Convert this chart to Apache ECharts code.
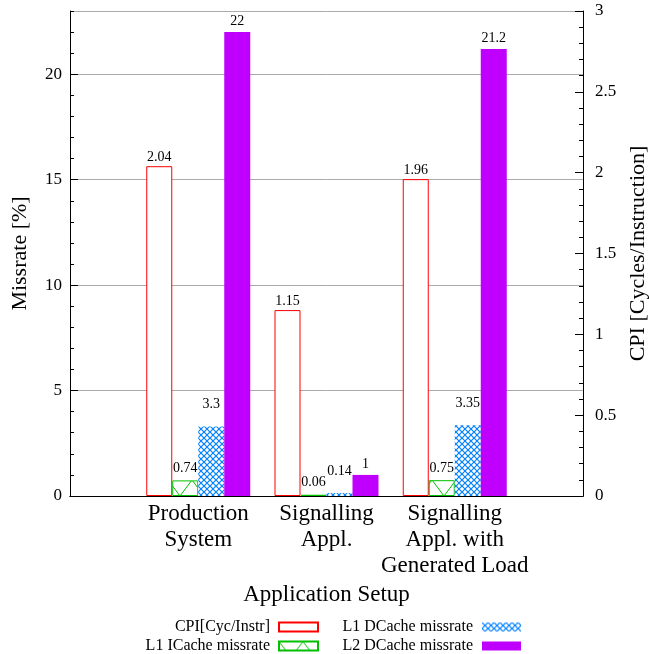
<!DOCTYPE html>
<html>
<head>
<meta charset="utf-8">
<script src="https://cdn.jsdelivr.net/npm/echarts@6/dist/echarts.min.js"></script>
<style>
html,body{margin:0;padding:0;background:#fff;}
#chart{width:649px;height:654px;}
</style>
</head>
<body>
<div id="chart"></div>
<script>
// ---- data ----
var categories = ['Production\nSystem', 'Signalling\nAppl.', 'Signalling\nAppl. with\nGenerated Load'];
var seriesNames = ['CPI[Cyc/Instr]', 'L1 ICache missrate', 'L1 DCache missrate', 'L2 DCache missrate'];
var cpiValues = [2.04, 1.15, 1.96];
var l1iValues = [0.74, 0.06, 0.75];
var l1dValues = [3.3, 0.14, 3.35];
var l2dValues = [22, 1, 21.2];
var leftAxisMax = 23;
var rightAxisMax = 3;

// ---- helpers ----
function pad(arr) { return [null].concat(arr).concat([null]); }
var xCats = [''].concat(categories).concat(['']);

function makePattern(w, h, color, draw) {
  var c = document.createElement('canvas');
  c.width = w; c.height = h;
  var ctx = c.getContext('2d');
  ctx.fillStyle = '#ffffff';
  ctx.fillRect(0, 0, w, h);
  ctx.strokeStyle = color;
  ctx.lineWidth = 1;
  draw(ctx, w, h);
  return { image: c, repeat: 'repeat' };
}
var greenPattern = makePattern(24, 32, '#00c000', function (ctx, w, h) {
  ctx.beginPath();
  ctx.moveTo(0, 0); ctx.lineTo(w, h);
  ctx.moveTo(w, 0); ctx.lineTo(0, h);
  ctx.stroke();
});
var bluePattern = makePattern(6, 6, '#0080ff', function (ctx, w, h) {
  ctx.lineWidth = 1.2;
  ctx.beginPath();
  ctx.moveTo(0, 0); ctx.lineTo(w, h);
  ctx.moveTo(w, 0); ctx.lineTo(0, h);
  ctx.stroke();
});

var FONT = '"Liberation Serif", "DejaVu Serif", serif';
var labelStyle = function (dist) {
  return { show: true, position: 'top', distance: dist, color: '#000', fontFamily: FONT, fontSize: 14, formatter: '{c}' };
};

var chart = echarts.init(document.getElementById('chart'), null, { renderer: 'canvas' });

function legendItem(name, right, top) {
  return {
    data: [name], right: right, top: top, orient: 'horizontal', align: 'right',
    padding: 0, itemWidth: 39, itemHeight: 9, icon: 'rect', selectedMode: false,
    textStyle: { fontFamily: FONT, fontSize: 16, color: '#000', padding: [0, 4, 0, 0] }
  };
}

var option = {
  animation: false,
  backgroundColor: '#ffffff',
  grid: { left: 70, right: 66, top: 11, bottom: 158, containLabel: false, outerBoundsMode: 'none' },
  legend: [
    legendItem(seriesNames[0], 330, 619),
    legendItem(seriesNames[1], 330, 638),
    legendItem(seriesNames[2], 128, 619),
    legendItem(seriesNames[3], 128, 638)
  ],
  xAxis: [
    {
      type: 'category', data: xCats, boundaryGap: false, position: 'bottom',
      axisLine: { show: true, lineStyle: { color: '#000', width: 1 } },
      axisTick: { show: false },
      axisLabel: { interval: 0, margin: 5, fontFamily: FONT, fontSize: 23, lineHeight: 26, color: '#000', align: 'center' },
      splitLine: { show: false },
      name: 'Application Setup', nameLocation: 'middle', nameGap: 80,
      nameTextStyle: { fontFamily: FONT, fontSize: 23, color: '#000' }
    },
    {
      type: 'category', data: xCats, boundaryGap: false, position: 'top',
      axisLine: { show: true, lineStyle: { color: '#000', width: 1 } },
      axisTick: { show: false }, axisLabel: { show: false }, splitLine: { show: false }
    }
  ],
  yAxis: [
    {
      type: 'value', position: 'left', min: 0, max: leftAxisMax, interval: 5,
      axisLine: { show: true, lineStyle: { color: '#000', width: 1 } },
      axisTick: { show: true, inside: true, length: 8, lineStyle: { color: '#000' } },
      axisLabel: { margin: 8, fontFamily: FONT, fontSize: 17, color: '#000', showMaxLabel: false },
      splitLine: { show: true, lineStyle: { color: '#ababab', width: 1 } },
      name: 'Missrate [%]', nameLocation: 'middle', nameGap: 39, nameRotate: 90,
      nameTextStyle: { fontFamily: FONT, fontSize: 22, color: '#000' }
    },
    {
      type: 'value', position: 'right', min: 0, max: rightAxisMax, interval: 0.5,
      axisLine: { show: true, lineStyle: { color: '#000', width: 1 } },
      axisTick: { show: true, inside: true, length: 8, lineStyle: { color: '#000' } },
      minorTick: { show: true, splitNumber: 5, length: 4, lineStyle: { color: '#000' } },
      axisLabel: { margin: 12, fontFamily: FONT, fontSize: 17, color: '#000' },
      splitLine: { show: false },
      name: 'CPI [Cycles/Instruction]', nameLocation: 'middle', nameGap: 41, nameRotate: 90,
      nameTextStyle: { fontFamily: FONT, fontSize: 22, color: '#000' }
    },
    {
      type: 'value', position: 'left', min: 0, max: leftAxisMax, interval: 1,
      axisLine: { show: false },
      axisTick: { show: true, inside: true, length: 4, lineStyle: { color: '#000' } },
      axisLabel: { show: false }, splitLine: { show: false }
    }
  ],
  series: [
    {
      name: seriesNames[0], type: 'bar', xAxisIndex: 0, yAxisIndex: 1, data: pad(cpiValues),
      barWidth: 26, barGap: '0%',
      itemStyle: { color: '#ffffff', borderColor: '#ff0000', borderWidth: 1 },
      label: labelStyle(2)
    },
    {
      name: seriesNames[1], type: 'bar', xAxisIndex: 0, yAxisIndex: 0, data: pad(l1iValues),
      barWidth: 26, barGap: '0%',
      itemStyle: { color: greenPattern, borderColor: '#00c000', borderWidth: 1 },
      label: labelStyle(5)
    },
    {
      name: seriesNames[2], type: 'bar', xAxisIndex: 0, yAxisIndex: 0, data: pad(l1dValues),
      barWidth: 26, barGap: '0%',
      itemStyle: { color: bluePattern, borderColor: '#0080ff', borderWidth: 0 },
      label: labelStyle(15)
    },
    {
      name: seriesNames[3], type: 'bar', xAxisIndex: 0, yAxisIndex: 0, data: pad(l2dValues),
      barWidth: 26, barGap: '0%',
      itemStyle: { color: '#c000ff' },
      label: labelStyle(4)
    }
  ]
};
chart.setOption(option);
</script>
</body>
</html>
